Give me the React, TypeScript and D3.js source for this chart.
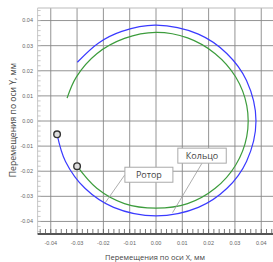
import { useEffect, useRef } from 'react'
import * as d3 from 'd3'

// rotor orbit (blue), metres in mm
const rotorX = [-0.0376, -0.0344, -0.0269, -0.0161, 0.0, 0.0161, 0.0269, 0.0344, 0.038, 0.0344, 0.0269, 0.0161, 0.0, -0.013, -0.0218, -0.0299]
const rotorY = [-0.0053, -0.0161, -0.0269, -0.0344, -0.0378, -0.0344, -0.0269, -0.0161, 0.0, 0.0161, 0.0269, 0.0346, 0.0382, 0.0357, 0.0311, 0.0234]

// ring orbit (green)
const ringX = [-0.03, -0.0225, -0.012, 0.0, 0.012, 0.0225, 0.0303, 0.0345, 0.0345, 0.0303, 0.0225, 0.012, 0.0, -0.012, -0.0225, -0.0303, -0.0338]
const ringY = [-0.018, -0.0268, -0.0329, -0.0347, -0.0329, -0.0268, -0.0175, -0.0061, 0.0061, 0.0175, 0.0268, 0.0331, 0.0353, 0.0329, 0.0268, 0.0175, 0.0091]

const ticks = [-0.04, -0.03, -0.02, -0.01, 0.0, 0.01, 0.02, 0.03, 0.04]

const labels = [
  { text: 'Ротор', bx: -0.0027, by: -0.0214, px: -0.0194, py: -0.0327 },
  { text: 'Кольцо', bx: 0.0175, by: -0.0138, px: 0.0063, py: -0.0365 },
]

export default function App() {
  const svgRef = useRef<SVGSVGElement>(null)
  const width = 273
  const height = 262

  useEffect(() => {
    const svg = d3.select(svgRef.current)
    svg.selectAll('*').remove()

    const x = d3.scaleLinear().domain([-0.045, 0.045]).range([37.6, 274.4])
    const y = d3.scaleLinear().domain([-0.045, 0.045]).range([234, 8])
    const [x0, x1] = x.range()
    const [y0, y1] = y.range()

    svg.append('rect').attr('width', width).attr('height', height).attr('fill', '#fff')

    // grid
    const grid = svg.append('g')
    grid.selectAll('.gx').data(ticks).enter().append('line')
      .attr('x1', d => x(d)).attr('x2', d => x(d))
      .attr('y1', y1).attr('y2', y0)
      .attr('stroke', '#888').attr('stroke-width', 0.9)
    grid.selectAll('.gy').data(ticks).enter().append('line')
      .attr('y1', d => y(d)).attr('y2', d => y(d))
      .attr('x1', x0).attr('x2', x1)
      .attr('stroke', '#888').attr('stroke-width', 0.9)
    grid.append('line').attr('x1', x0).attr('x2', x1).attr('y1', y1).attr('y2', y1)
      .attr('stroke', '#bbb').attr('stroke-width', 1)
    grid.append('line').attr('x1', x0).attr('x2', x0).attr('y1', y1).attr('y2', y0)
      .attr('stroke', '#c8c8c8').attr('stroke-width', 1)

    // minor ticks
    const minor = d3.range(-0.044, 0.0441, 0.002)
    svg.append('g').selectAll('line').data(minor).enter().append('line')
      .attr('x1', x0).attr('x2', x0 + 3)
      .attr('y1', d => y(d)).attr('y2', d => y(d))
      .attr('stroke', '#bbb').attr('stroke-width', 0.8)
    svg.append('g').selectAll('line').data(minor).enter().append('line')
      .attr('y1', y0 - 1).attr('y2', y0 - 5)
      .attr('x1', d => x(d)).attr('x2', d => x(d))
      .attr('stroke', '#555').attr('stroke-width', 0.8)
    svg.append('line').attr('x1', x0).attr('x2', x1).attr('y1', y0).attr('y2', y0)
      .attr('stroke', '#555').attr('stroke-width', 2)

    // tick labels
    const fmt = (d: number) => d.toFixed(2)
    svg.append('g').selectAll('text').data(ticks).enter().append('text')
      .attr('x', 33).attr('y', d => y(d)).attr('dy', '0.35em')
      .attr('text-anchor', 'end')
      .attr('font-family', 'Arial, "Liberation Sans", sans-serif').attr('font-size', 5.5)
      .attr('fill', '#666').text(fmt)
    svg.append('g').selectAll('text').data(ticks).enter().append('text')
      .attr('x', d => x(d)).attr('y', 245)
      .attr('text-anchor', 'middle')
      .attr('font-family', 'Arial, "Liberation Sans", sans-serif').attr('font-size', 5.5)
      .attr('fill', '#666').text(fmt)

    // axis titles
    svg.append('text').attr('x', 155).attr('y', 260)
      .attr('text-anchor', 'middle').attr('font-family', '"Open Sans", sans-serif')
      .attr('font-size', 7.5).attr('fill', '#444').text('Перемещения по оси X, мм')
    svg.append('text').attr('transform', 'translate(16,120) rotate(-90)')
      .attr('text-anchor', 'middle').attr('font-family', '"Open Sans", sans-serif')
      .attr('font-size', 8.6).attr('fill', '#444').text('Перемещения по оси Y, мм')

    // orbits
    const line = d3.line<[number, number]>()
      .x(d => x(d[0])).y(d => y(d[1]))
      .curve(d3.curveCatmullRom)
    const rotor = rotorX.map((v, i) => [v, rotorY[i]] as [number, number])
    const ring = ringX.map((v, i) => [v, ringY[i]] as [number, number])
    svg.append('path').datum(ring).attr('d', line)
      .attr('fill', 'none').attr('stroke', '#3c9c3c').attr('stroke-width', 1.2)
    svg.append('path').datum(rotor).attr('d', line)
      .attr('fill', 'none').attr('stroke', '#3a3aff').attr('stroke-width', 1.2)

    // start markers
    ;[rotor[0], ring[0]].forEach(p => {
      svg.append('circle').attr('cx', x(p[0])).attr('cy', y(p[1])).attr('r', 3.3)
        .attr('fill', '#ddd').attr('stroke', '#333').attr('stroke-width', 1.4)
    })

    // callouts
    labels.forEach(l => {
      const g = svg.append('g')
      const t = g.append('text').attr('x', x(l.bx)).attr('y', y(l.by)).attr('dy', '0.35em')
        .attr('text-anchor', 'middle').attr('font-family', '"Open Sans", sans-serif')
        .attr('font-size', 9).attr('fill', '#444').text(l.text)
      const bb = (t.node() as SVGTextElement).getBBox()
      const w = Math.max(bb.width + 16, 48)
      const h = 15
      const rx = x(l.bx) - w / 2
      const ry = y(l.by) - h / 2
      g.insert('line', 'text')
        .attr('x1', x(l.bx) - (l.text === 'Ротор' ? w / 2 : 0)).attr('y1', y(l.by) + (l.text === 'Ротор' ? 0 : h / 2))
        .attr('x2', x(l.px)).attr('y2', y(l.py))
        .attr('stroke', '#999').attr('stroke-width', 0.8)
      g.insert('rect', 'text').attr('x', rx).attr('y', ry).attr('width', w).attr('height', h)
        .attr('fill', '#fff').attr('stroke', '#aaa').attr('stroke-width', 1)
    })
  }, [])

  return (
    <svg ref={svgRef} width={width} height={height}
      style={{ position: 'absolute', left: 0, top: 0, display: 'block' }} />
  )
}
